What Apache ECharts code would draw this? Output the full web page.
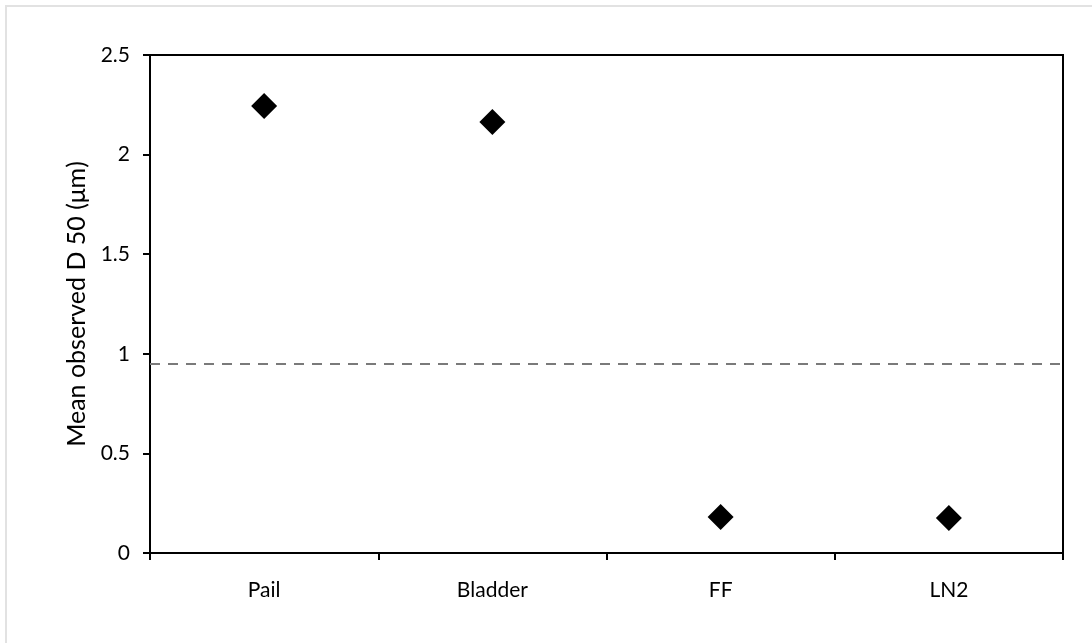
<!DOCTYPE html>
<html>
<head>
<meta charset="utf-8">
<script src="https://cdn.jsdelivr.net/npm/echarts@6/dist/echarts.min.js"></script>
<style>
html,body{margin:0;padding:0;background:#fff;}
#chart{width:1092px;height:643px;}
</style>
</head>
<body>
<div id="chart"></div>
<script>
var categories = ['Pail', 'Bladder', 'FF', 'LN2'];
var d50Values = [2.244, 2.164, 0.181, 0.176];
var referenceLine = 0.947;
var yTicks = { min: 0, max: 2.5, interval: 0.5 };

var chart = echarts.init(document.getElementById('chart'));
var font = 'Lato, "Open Sans", "Noto Sans", sans-serif';
chart.setOption({
  animation: false,
  backgroundColor: '#fff',
  graphic: [{
    type: 'rect',
    shape: { x: 6, y: 6, width: 1200, height: 800 },
    style: { fill: 'none', stroke: '#e2e2e2', lineWidth: 2 },
    silent: true
  }],
  grid: {
    left: 150, right: 29, top: 55, bottom: 90,
    show: true, borderColor: '#000', borderWidth: 2, backgroundColor: 'transparent'
  },
  xAxis: {
    type: 'category',
    data: categories,
    boundaryGap: true,
    axisLine: { lineStyle: { color: '#000', width: 2 } },
    axisTick: { show: true, alignWithLabel: false, length: 7, lineStyle: { color: '#000', width: 2 } },
    axisLabel: { color: '#000', fontSize: 21, fontFamily: font, margin: 27 },
    splitLine: { show: false }
  },
  yAxis: {
    type: 'value',
    min: yTicks.min, max: yTicks.max, interval: yTicks.interval,
    name: 'Mean observed D 50 (μm)',
    nameLocation: 'middle',
    nameGap: 60,
    nameTextStyle: { color: '#000', fontSize: 25, fontFamily: font },
    axisLine: { show: true, lineStyle: { color: '#000', width: 2 } },
    axisTick: { show: true, length: 7, lineStyle: { color: '#000', width: 2 } },
    axisLabel: { color: '#000', fontSize: 21, fontFamily: font, margin: 20 },
    splitLine: { show: false }
  },
  series: [{
    type: 'scatter',
    data: d50Values,
    symbol: 'diamond',
    symbolSize: 26,
    itemStyle: { color: '#000', opacity: 1 },
    markLine: {
      silent: true,
      symbol: 'none',
      label: { show: false },
      lineStyle: { color: '#7a7a7a', type: [10, 8], width: 2, opacity: 1 },
      data: [{ yAxis: referenceLine }]
    }
  }]
});
</script>
</body>
</html>
